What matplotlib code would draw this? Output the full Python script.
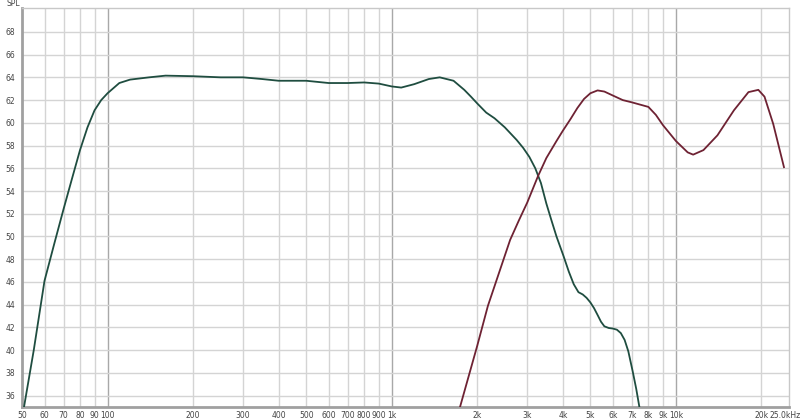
import matplotlib.pyplot as plt
from matplotlib.transforms import ScaledTranslation

# woofer (green) response
woofer_f = [50.5, 55, 60, 65, 70, 75, 80, 85, 90, 95, 100, 110, 120, 140, 160,
            200, 250, 300, 350, 400, 500, 600, 700, 800, 900, 1000, 1080, 1200,
            1350, 1475, 1650, 1800, 1900, 2000, 2150, 2300, 2500, 2750, 2900,
            3050, 3200, 3350, 3500, 3650, 3800, 4020, 4200, 4370, 4540, 4700,
            4850, 5000, 5150, 5300, 5450, 5600, 5800, 6000, 6200, 6400, 6600,
            6800, 7050, 7250, 7450]
woofer_db = [34.6, 40.0, 46.1, 49.4, 52.4, 55.1, 57.6, 59.6, 61.1, 62.0, 62.6,
             63.5, 63.8, 64.0, 64.15, 64.1, 64.0, 64.0, 63.85, 63.7, 63.7, 63.5,
             63.5, 63.55, 63.45, 63.2, 63.1, 63.4, 63.85, 64.0, 63.7, 62.9, 62.3,
             61.7, 60.9, 60.4, 59.6, 58.5, 57.8, 57.0, 56.0, 54.7, 52.9, 51.4,
             50.0, 48.3, 46.9, 45.8, 45.1, 44.9, 44.6, 44.2, 43.7, 43.1, 42.5,
             42.1, 41.95, 41.9, 41.8, 41.5, 40.9, 39.9, 38.1, 36.6, 34.9]

# tweeter (red) response
tweeter_f = [1730, 2000, 2180, 2400, 2610, 2800, 3000, 3270, 3500, 3800, 4000,
             4250, 4500, 4750, 5000, 5300, 5600, 6000, 6500, 7000, 8000, 8500,
             9000, 10000, 11000, 11500, 12500, 14000, 16000, 18000, 19500,
             20500, 22000, 24000]
tweeter_db = [34.8, 40.4, 43.9, 47.0, 49.7, 51.4, 53.0, 55.3, 56.9, 58.4, 59.3,
              60.3, 61.3, 62.1, 62.6, 62.85, 62.75, 62.4, 62.0, 61.8, 61.4, 60.7,
              59.8, 58.4, 57.4, 57.2, 57.6, 58.9, 61.1, 62.7, 62.9, 62.3, 59.9,
              56.1]

xtick_vals = [50, 60, 70, 80, 90, 100, 200, 300, 400, 500, 600, 700, 800, 900,
              1000, 2000, 3000, 4000, 5000, 6000, 7000, 8000, 9000, 10000, 20000, 25000]
xtick_labels = ['50', '60', '70', '80', '90', '100', '200', '300', '400', '500',
                '600', '700', '800', '900', '1k', '2k', '3k', '4k', '5k', '6k',
                '7k', '8k', '9k', '10k', '20k', '25.0kHz']
ytick_vals = list(range(36, 70, 2))

fig = plt.figure(figsize=(8, 4.2), dpi=100)
ax = fig.add_axes([22 / 800, 1 - 407 / 420, (789 - 22) / 800, (407 - 8) / 420])

ax.set_xscale('log')
ax.set_xlim(50, 25000)
ax.set_ylim(35.0, 70.1)

# grid
for f in xtick_vals[1:-1]:
    major = f in (100, 1000, 10000)
    ax.axvline(f, color='#a8a8a8' if major else '#d4d4d4', lw=1.0, zorder=1)
for v in ytick_vals:
    ax.axhline(v, color='#d4d4d4', lw=1.0, zorder=1)

ax.plot(woofer_f, woofer_db, color='#1f4d40', lw=1.3, zorder=3)
ax.plot(tweeter_f, tweeter_db, color='#6e2233', lw=1.3, zorder=3)

ax.set_xticks(xtick_vals)
ax.set_xticklabels(xtick_labels)
ax.xaxis.set_minor_locator(plt.NullLocator())
ax.set_yticks(ytick_vals)
ax.set_yticklabels([str(v) for v in ytick_vals])
ax.tick_params(axis='both', length=0, labelsize=5.5, colors='#444444')
ax.tick_params(axis='x', pad=3)
ax.tick_params(axis='y', pad=5)

# nudge the last label so it stays inside the picture
last = ax.get_xticklabels()[-1]
last.set_transform(last.get_transform() + ScaledTranslation(-4 / 100, 0, fig.dpi_scale_trans))

for side in ('left', 'bottom'):
    ax.spines[side].set_color('#a0a0a0')
    ax.spines[side].set_linewidth(2)
for side in ('top', 'right'):
    ax.spines[side].set_color('#c8c8c8')
    ax.spines[side].set_linewidth(1)

fig.text(13 / 800, 1 - 4 / 420, 'SPL', fontsize=5.5, color='#444444',
         ha='center', va='center')

fig.savefig('out.png', dpi=100)
